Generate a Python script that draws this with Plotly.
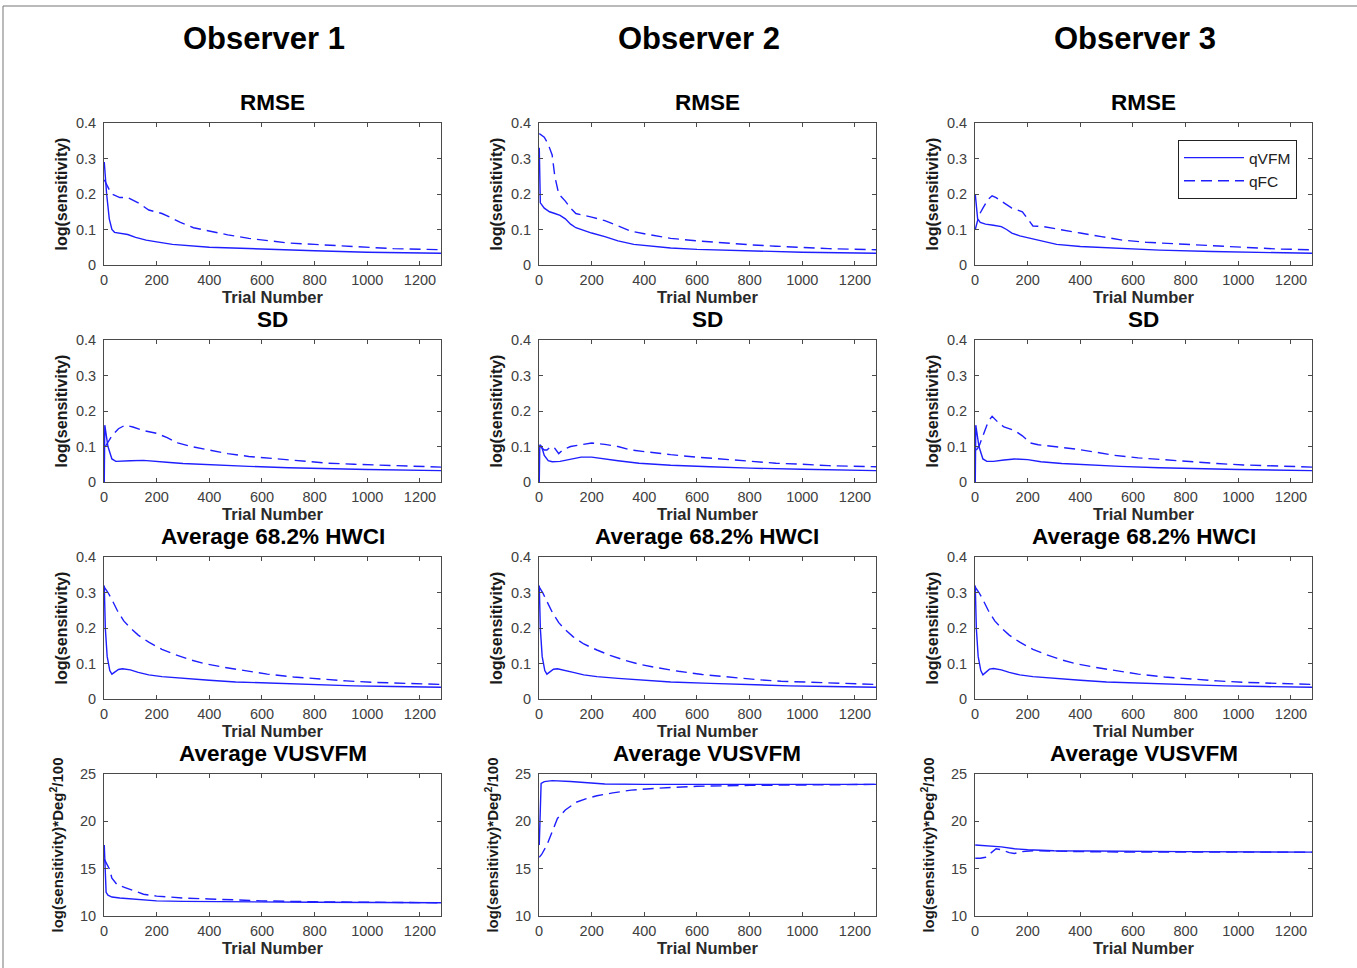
import plotly.graph_objects as go

# ---------------- DATA ----------------
observers = ["Observer 1", "Observer 2", "Observer 3"]
metrics = ["RMSE", "SD", "Average 68.2% HWCI", "Average VUSVFM"]
series_names = ["qVFM", "qFC"]
x_ticks = [0, 200, 400, 600, 800, 1000, 1200]
y_ticks_log = [0, 0.1, 0.2, 0.3, 0.4]
y_ticks_vus = [10, 15, 20, 25]

# RMSE
rmse1_vfm_x = [1, 5, 10, 20, 30, 40, 60, 90, 120, 160, 200, 260, 400, 600, 800, 1000, 1280]
rmse1_vfm_y = [0.29, 0.25, 0.2, 0.13, 0.1, 0.092, 0.09, 0.086, 0.078, 0.07, 0.065, 0.058, 0.05, 0.044, 0.04, 0.036, 0.033]
rmse1_fc_x = [1, 10, 20, 30, 60, 90, 130, 170, 220, 250, 290, 340, 400, 470, 550, 620, 700, 800, 900, 1000, 1100, 1280]
rmse1_fc_y = [0.24, 0.225, 0.212, 0.2, 0.19, 0.19, 0.175, 0.155, 0.145, 0.135, 0.12, 0.105, 0.095, 0.085, 0.075, 0.068, 0.062, 0.058, 0.054, 0.05, 0.046, 0.043]

rmse2_vfm_x = [1, 5, 20, 40, 60, 80, 100, 120, 140, 170, 200, 250, 300, 360, 420, 500, 600, 800, 1000, 1280]
rmse2_vfm_y = [0.33, 0.175, 0.16, 0.15, 0.145, 0.14, 0.13, 0.115, 0.105, 0.097, 0.09, 0.08, 0.068, 0.058, 0.053, 0.048, 0.044, 0.04, 0.036, 0.033]
rmse2_fc_x = [1, 20, 35, 50, 60, 75, 100, 120, 140, 160, 200, 250, 300, 350, 400, 450, 500, 600, 700, 800, 900, 1000, 1100, 1280]
rmse2_fc_y = [0.37, 0.36, 0.34, 0.31, 0.25, 0.2, 0.18, 0.16, 0.145, 0.142, 0.135, 0.125, 0.11, 0.095, 0.088, 0.082, 0.075, 0.068, 0.062, 0.057, 0.053, 0.05, 0.046, 0.043]

rmse3_vfm_x = [1, 10, 20, 40, 70, 100, 120, 140, 170, 210, 260, 310, 400, 550, 700, 900, 1100, 1280]
rmse3_vfm_y = [0.2, 0.13, 0.12, 0.115, 0.112, 0.108, 0.1, 0.09, 0.082, 0.075, 0.065, 0.058, 0.052, 0.046, 0.042, 0.038, 0.035, 0.033]
rmse3_fc_x = [1, 15, 30, 50, 65, 80, 110, 140, 180, 200, 220, 260, 330, 400, 480, 560, 650, 750, 850, 950, 1050, 1150, 1280]
rmse3_fc_y = [0.1, 0.14, 0.16, 0.185, 0.195, 0.19, 0.175, 0.16, 0.15, 0.13, 0.11, 0.108, 0.1, 0.09, 0.08, 0.07, 0.064, 0.06, 0.056, 0.052, 0.048, 0.045, 0.043]

# SD
sd1_vfm_x = [1, 3, 15, 30, 45, 70, 100, 150, 200, 250, 300, 400, 550, 700, 850, 1000, 1280]
sd1_vfm_y = [0.0, 0.16, 0.1, 0.065, 0.058, 0.058, 0.06, 0.061, 0.059, 0.055, 0.052, 0.048, 0.044, 0.04, 0.037, 0.035, 0.032]
sd1_fc_x = [5, 30, 55, 80, 110, 150, 200, 240, 280, 330, 400, 470, 550, 650, 750, 850, 950, 1050, 1150, 1280]
sd1_fc_y = [0.1, 0.13, 0.15, 0.16, 0.155, 0.145, 0.137, 0.125, 0.11, 0.1, 0.09, 0.08, 0.072, 0.065, 0.058, 0.053, 0.05, 0.047, 0.044, 0.042]

sd2_vfm_x = [1, 3, 10, 20, 35, 50, 80, 120, 160, 200, 250, 300, 380, 500, 650, 800, 1000, 1280]
sd2_vfm_y = [0.0, 0.105, 0.1, 0.075, 0.06, 0.057, 0.058, 0.064, 0.07, 0.07, 0.066, 0.06, 0.053, 0.047, 0.043, 0.039, 0.036, 0.032]
sd2_fc_x = [5, 20, 30, 45, 60, 75, 90, 120, 160, 200, 250, 300, 350, 420, 500, 600, 700, 800, 900, 1000, 1100, 1280]
sd2_fc_y = [0.1, 0.09, 0.09, 0.1, 0.095, 0.08, 0.09, 0.1, 0.105, 0.11, 0.106, 0.1, 0.09, 0.083, 0.077, 0.07, 0.064, 0.058, 0.053, 0.05, 0.046, 0.043]

sd3_vfm_x = [1, 3, 15, 30, 45, 70, 110, 150, 200, 250, 330, 420, 550, 700, 850, 1000, 1280]
sd3_vfm_y = [0.0, 0.16, 0.1, 0.065, 0.058, 0.058, 0.062, 0.065, 0.063, 0.057, 0.052, 0.048, 0.044, 0.04, 0.037, 0.035, 0.032]
sd3_fc_x = [5, 15, 30, 50, 65, 85, 110, 150, 180, 210, 240, 300, 380, 450, 530, 620, 720, 820, 920, 1020, 1130, 1280]
sd3_fc_y = [0.09, 0.1, 0.13, 0.17, 0.185, 0.17, 0.155, 0.145, 0.13, 0.11, 0.105, 0.1, 0.093, 0.085, 0.075, 0.068, 0.062, 0.057, 0.052, 0.048, 0.045, 0.042]

# Average 68.2% HWCI
hw1_vfm_x = [1, 5, 12, 22, 30, 40, 55, 70, 100, 130, 170, 220, 300, 400, 500, 650, 800, 950, 1100, 1280]
hw1_vfm_y = [0.32, 0.2, 0.12, 0.08, 0.07, 0.075, 0.083, 0.085, 0.082, 0.075, 0.068, 0.063, 0.058, 0.053, 0.048, 0.044, 0.04, 0.037, 0.035, 0.033]
hw1_fc_x = [1, 15, 30, 50, 75, 100, 130, 170, 220, 270, 330, 380, 450, 530, 620, 720, 820, 920, 1020, 1120, 1280]
hw1_fc_y = [0.315, 0.3, 0.28, 0.25, 0.22, 0.2, 0.18, 0.16, 0.14, 0.125, 0.11, 0.1, 0.09, 0.08, 0.07, 0.062, 0.056, 0.051, 0.047, 0.044, 0.041]

hw2_vfm_x = [1, 5, 12, 22, 30, 40, 55, 70, 100, 130, 170, 220, 300, 400, 500, 650, 800, 950, 1100, 1280]
hw2_vfm_y = [0.32, 0.2, 0.12, 0.08, 0.07, 0.076, 0.084, 0.085, 0.081, 0.075, 0.068, 0.063, 0.058, 0.053, 0.048, 0.044, 0.04, 0.037, 0.035, 0.033]
hw2_fc_x = [1, 15, 30, 50, 75, 100, 130, 170, 220, 270, 330, 380, 450, 530, 620, 720, 820, 920, 1020, 1120, 1280]
hw2_fc_y = [0.315, 0.298, 0.275, 0.245, 0.215, 0.195, 0.175, 0.155, 0.138, 0.123, 0.108, 0.098, 0.088, 0.078, 0.069, 0.061, 0.055, 0.05, 0.047, 0.044, 0.041]

hw3_vfm_x = [1, 5, 12, 22, 30, 40, 55, 70, 100, 130, 170, 220, 300, 400, 500, 650, 800, 950, 1100, 1280]
hw3_vfm_y = [0.32, 0.2, 0.12, 0.08, 0.068, 0.075, 0.084, 0.086, 0.082, 0.075, 0.068, 0.063, 0.058, 0.053, 0.048, 0.044, 0.04, 0.037, 0.035, 0.033]
hw3_fc_x = [1, 15, 30, 50, 75, 100, 130, 170, 220, 270, 330, 380, 450, 530, 620, 720, 820, 920, 1020, 1120, 1280]
hw3_fc_y = [0.315, 0.3, 0.28, 0.25, 0.22, 0.2, 0.18, 0.16, 0.14, 0.125, 0.11, 0.1, 0.09, 0.08, 0.07, 0.062, 0.056, 0.051, 0.047, 0.044, 0.041]

# Average VUSVFM
vus1_vfm_x = [1, 8, 15, 30, 60, 100, 150, 200, 300, 500, 800, 1280]
vus1_vfm_y = [17.5, 12.5, 12.2, 12.0, 11.9, 11.8, 11.7, 11.6, 11.55, 11.5, 11.45, 11.4]
vus1_fc_x = [1, 10, 20, 30, 50, 80, 110, 150, 200, 250, 300, 400, 500, 600, 800, 1000, 1280]
vus1_fc_y = [16.0, 15.5, 15.0, 14.0, 13.3, 13.0, 12.7, 12.3, 12.1, 12.0, 11.9, 11.8, 11.7, 11.6, 11.5, 11.45, 11.4]

vus2_vfm_x = [1, 8, 20, 50, 120, 180, 250, 400, 1280]
vus2_vfm_y = [17.5, 24.0, 24.2, 24.3, 24.2, 24.05, 23.95, 23.9, 23.9]
vus2_fc_x = [1, 10, 30, 50, 70, 100, 140, 180, 220, 280, 350, 450, 600, 800, 1000, 1280]
vus2_fc_y = [16.2, 16.5, 17.5, 19.0, 20.3, 21.2, 22.0, 22.4, 22.7, 23.0, 23.3, 23.5, 23.7, 23.8, 23.85, 23.9]

vus3_vfm_x = [1, 50, 100, 150, 200, 300, 500, 800, 1280]
vus3_vfm_y = [17.5, 17.4, 17.3, 17.1, 17.0, 16.9, 16.85, 16.8, 16.75]
vus3_fc_x = [1, 20, 40, 60, 80, 100, 130, 150, 180, 220, 300, 400, 600, 1280]
vus3_fc_y = [16.1, 16.1, 16.2, 16.7, 17.1, 17.0, 16.7, 16.6, 16.8, 16.9, 16.85, 16.8, 16.75, 16.75]

panels = [
    [(rmse1_vfm_x, rmse1_vfm_y, rmse1_fc_x, rmse1_fc_y),
     (rmse2_vfm_x, rmse2_vfm_y, rmse2_fc_x, rmse2_fc_y),
     (rmse3_vfm_x, rmse3_vfm_y, rmse3_fc_x, rmse3_fc_y)],
    [(sd1_vfm_x, sd1_vfm_y, sd1_fc_x, sd1_fc_y),
     (sd2_vfm_x, sd2_vfm_y, sd2_fc_x, sd2_fc_y),
     (sd3_vfm_x, sd3_vfm_y, sd3_fc_x, sd3_fc_y)],
    [(hw1_vfm_x, hw1_vfm_y, hw1_fc_x, hw1_fc_y),
     (hw2_vfm_x, hw2_vfm_y, hw2_fc_x, hw2_fc_y),
     (hw3_vfm_x, hw3_vfm_y, hw3_fc_x, hw3_fc_y)],
    [(vus1_vfm_x, vus1_vfm_y, vus1_fc_x, vus1_fc_y),
     (vus2_vfm_x, vus2_vfm_y, vus2_fc_x, vus2_fc_y),
     (vus3_vfm_x, vus3_vfm_y, vus3_fc_x, vus3_fc_y)],
]

# ---------------- LAYOUT ----------------
W, H = 1357, 968
col_px = [(104, 441), (539, 876), (975, 1312)]
row_px = [(123, 265), (340, 482), (557, 699), (774, 916)]
FONT = "Liberation Sans, Arial, sans-serif"
LINE_COLOR = "rgb(30,30,255)"
AX_COLOR = "#4a4a4a"
TICK_COLOR = "#404040"

fig = go.Figure()
layout = dict(
    width=W, height=H, autosize=False,
    margin=dict(l=0, r=0, t=0, b=0, pad=0),
    paper_bgcolor="white", plot_bgcolor="white",
    font=dict(family=FONT, color="#222"),
    showlegend=True,
)
annotations = []
idx = 0
for r in range(4):
    for c in range(3):
        idx += 1
        xa = "x" if idx == 1 else f"x{idx}"
        ya = "y" if idx == 1 else f"y{idx}"
        vx, vy, fx, fy = panels[r][c]
        show = (r == 0 and c == 2)
        fig.add_trace(go.Scatter(x=vx, y=vy, mode="lines", name=series_names[0],
                                 line=dict(color=LINE_COLOR, width=1.4),
                                 xaxis=xa, yaxis=ya, showlegend=show))
        fig.add_trace(go.Scatter(x=fx, y=fy, mode="lines", name=series_names[1],
                                 line=dict(color=LINE_COLOR, width=1.4, dash="11px,6px"),
                                 xaxis=xa, yaxis=ya, showlegend=show))
        x0, x1 = col_px[c]
        y0, y1 = row_px[r]
        is_vus = (r == 3)
        layout["xaxis" if idx == 1 else f"xaxis{idx}"] = dict(
            domain=[x0 / W, x1 / W], anchor=ya, range=[0, 1280], automargin=False,
            tickvals=x_ticks, ticks="inside", ticklen=4, tickcolor=AX_COLOR,
            showline=True, linecolor=AX_COLOR, linewidth=1, mirror="ticks",
            showgrid=False, zeroline=False, ticklabelstandoff=2,
            tickfont=dict(size=14.5, color=TICK_COLOR, family=FONT),
            title=dict(text="Trial Number", standoff=3,
                       font=dict(size=16.5, color="#2a2a2a", family=FONT, weight="bold")),
        )
        layout["yaxis" if idx == 1 else f"yaxis{idx}"] = dict(
            domain=[1 - y1 / H, 1 - y0 / H], anchor=xa, automargin=False,
            range=[10, 25] if is_vus else [0, 0.4],
            tickvals=y_ticks_vus if is_vus else y_ticks_log,
            ticktext=[str(v) for v in (y_ticks_vus if is_vus else y_ticks_log)],
            ticks="inside", ticklen=4, tickcolor=AX_COLOR,
            showline=True, linecolor=AX_COLOR, linewidth=1, mirror="ticks",
            showgrid=False, zeroline=False, ticklabelstandoff=4,
            tickfont=dict(size=14.5, color=TICK_COLOR, family=FONT),
            title=dict(text="log(sensitivity)*Deg<sup>2</sup>/100" if is_vus else "log(sensitivity)",
                       standoff=12 if is_vus else 4,
                       font=dict(size=16 if not is_vus else 15, color="#1a1a1a", family=FONT, weight="bold")),
        )
        annotations.append(dict(
            text=metrics[r], x=(x0 + x1) / 2 / W, y=1 - (y0 - 6) / H,
            xref="paper", yref="paper", xanchor="center", yanchor="bottom",
            showarrow=False, font=dict(size=22.5, color="black", family=FONT, weight="bold"),
        ))

for c in range(3):
    x0, x1 = col_px[c]
    annotations.append(dict(
        text=observers[c], x=((x0 + x1) / 2 - 9) / W, y=1 - 38 / H,
        xref="paper", yref="paper", xanchor="center", yanchor="middle",
        showarrow=False, font=dict(size=31, color="black", family=FONT, weight="bold"),
    ))

layout["annotations"] = annotations
layout["legend"] = dict(
    x=1297 / W, y=1 - 140 / H, xanchor="right", yanchor="top",
    bgcolor="white", bordercolor="#222", borderwidth=1,
    font=dict(size=15.5, color="#222", family=FONT),
    tracegroupgap=0, itemwidth=60,
)
layout["shapes"] = [
    dict(type="line", xref="paper", yref="paper", x0=3 / W, x1=1, y0=1 - 6 / H, y1=1 - 6 / H,
         line=dict(color="#777", width=1)),
    dict(type="line", xref="paper", yref="paper", x0=3 / W, x1=3 / W, y0=0, y1=1 - 6 / H,
         line=dict(color="#777", width=1)),
]
fig.update_layout(**layout)
fig.write_html("out.html", config={"displayModeBar": False},
               post_script="document.body.style.margin='0';document.body.style.overflow='hidden';")
